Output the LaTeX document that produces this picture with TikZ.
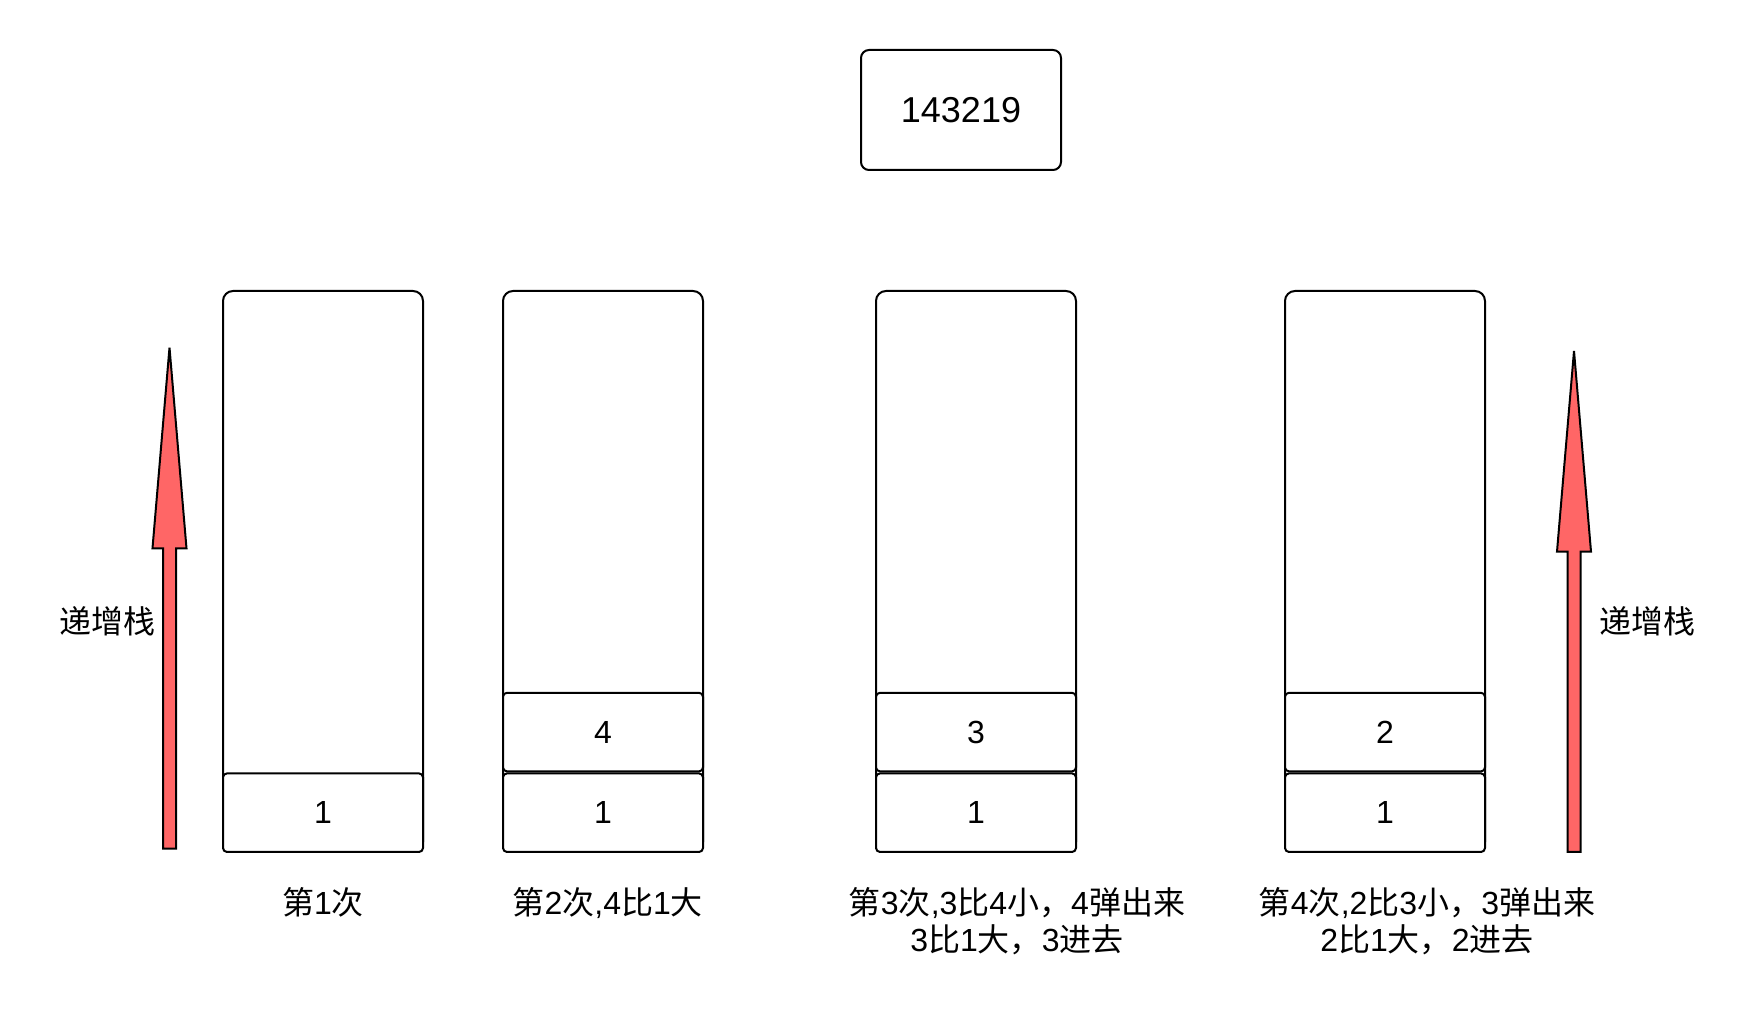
\documentclass[tikz,border=0pt]{standalone}
\usepackage{fontspec}
\setmainfont{Liberation Sans}
\newfontfamily\cjkfont{Noto Sans CJK SC}
\usepackage{tikz}
\usetikzlibrary{positioning}
\definecolor{ArrowRed}{HTML}{FF6666}
\newcommand{\zh}[1]{{\cjkfont #1}}

\begin{document}
\begin{tikzpicture}[
    x=0.5pt, y=0.5pt,
    font=\fontsize{16}{18.5}\selectfont,
    % 栈的外框
    stackbox/.style={rectangle, rounded corners=5pt, draw=black, line width=1pt, fill=white, minimum width=100pt, minimum height=280.5pt, inner sep=0pt},
    % 栈内元素
    cell/.style={rectangle, rounded corners=2pt, draw=black, line width=1pt, fill=white, minimum width=100pt, minimum height=39.3pt, inner sep=0pt, anchor=south},
    inputbox/.style={rectangle, rounded corners=4pt, draw=black, line width=1pt, fill=white, minimum width=100pt, minimum height=60pt, font=\fontsize{18}{22}\selectfont},
    caption/.style={align=center, inner sep=0pt},
    uparrow/.style={draw=black, line width=1pt, fill=ArrowRed, line join=miter}
]
\useasboundingbox (0,0) rectangle (1758,1012);

% 输入序列
\node[inputbox] (seq) at (961,902) {143219};

% 四次操作后的栈
\node[stackbox] (stackA) at (323,440.5) {};
\node[stackbox] (stackB) at (603,440.5) {};
\node[stackbox] (stackC) at (976,440.5) {};
\node[stackbox] (stackD) at (1385,440.5) {};

% 栈内元素，自底向上
\node[cell] (a1) at (stackA.south) {1};
\node[cell] (b1) at (stackB.south) {1};
\node[cell, above=0pt of b1] (b2) {4};
\node[cell] (c1) at (stackC.south) {1};
\node[cell, above=0pt of c1] (c2) {3};
\node[cell] (d1) at (stackD.south) {1};
\node[cell, above=0pt of d1] (d2) {2};

% 说明文字
\node[caption] (capA) at (323,109.4) {\zh{第}1\zh{次}};
\node[caption] (capB) at (607.7,109.4) {\zh{第}2\zh{次},4\zh{比}1\zh{大}};
\node[caption] (capC) at (1017,91) {\zh{第}3\zh{次},3\zh{比}4\zh{小，}4\zh{弹出来}\\3\zh{比}1\zh{大，}3\zh{进去}};
\node[caption] (capD) at (1427,91) {\zh{第}4\zh{次},2\zh{比}3\zh{小，}3\zh{弹出来}\\2\zh{比}1\zh{大，}2\zh{进去}};

% 左右两侧的方向箭头
\draw[uparrow] (163,163.3) -- (176,163.3) -- (176,463.7) -- (186.5,463.7) -- (169.5,664.4) -- (152.5,463.7) -- (163,463.7) -- cycle;
\node (lblL) at (107.6,391) {\zh{递增栈}};

\draw[uparrow] (1567.5,160) -- (1580.5,160) -- (1580.5,460.4) -- (1591,460.4) -- (1574,661) -- (1557,460.4) -- (1567.5,460.4) -- cycle;
\node (lblR) at (1647,391) {\zh{递增栈}};

\end{tikzpicture}
\end{document}
